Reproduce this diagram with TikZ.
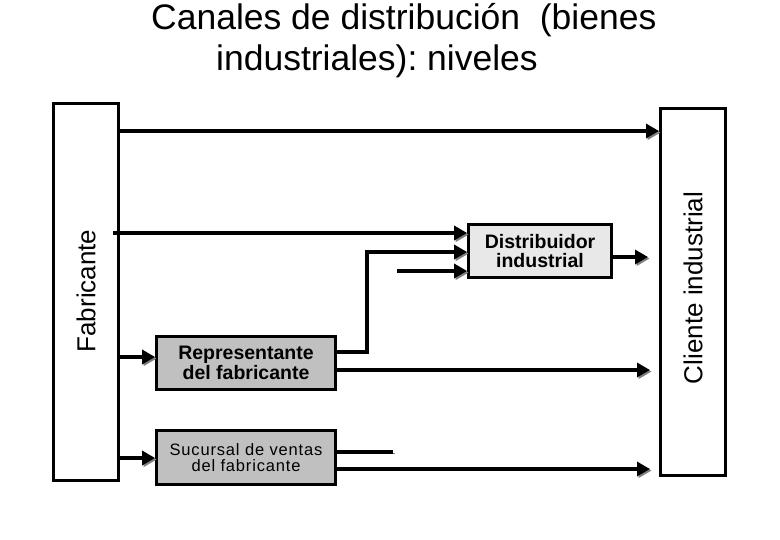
\documentclass[tikz,border=0pt]{standalone}
\usepackage{fontspec}
\setmainfont{Liberation Sans}
\usetikzlibrary{arrows.meta}
\definecolor{boxgray}{RGB}{192,192,192}
\definecolor{lightbox}{RGB}{232,232,232}
\definecolor{shadowgray}{RGB}{128,128,128}
\frenchspacing
\begin{document}
\begin{tikzpicture}[x=1pt,y=-1pt,
  frame/.style={draw,line width=3pt,inner sep=0pt},
  agent/.style={frame,line width=2.8pt,align=center,inner sep=0pt},
  ln/.style={line width=4.8pt,
    preaction={draw=shadowgray,transform canvas={shift={(1.6pt,-1.6pt)}}}},
  arr/.style={ln,-{Triangle[length=13pt,width=14pt]}},
  titlefont/.style={font=\fontsize{35.5}{40}\selectfont},
  sidefont/.style={font=\fontsize{26}{30}\selectfont},
  boldfont/.style={font=\fontsize{19.5}{19.5}\selectfont\bfseries},
  smallfont/.style={font=\fontsize{16.5}{16}\selectfont\addfontfeatures{LetterSpace=5}}]
\fill[white] (0,0) rectangle (780,540);
\useasboundingbox (0,0) rectangle (780,540);

% title
\node[titlefont,anchor=base west,inner sep=0pt] (t1) at (151,30) {Canales de distribución\ \ (bienes};
\node[titlefont,anchor=base west,inner sep=0pt] (t2) at (216,71) {industriales): niveles};

% big frames
\node[frame,minimum width=65pt,minimum height=377pt] (fab) at (86,292) {};
\node[frame,minimum width=65pt,minimum height=367pt] (cli) at (693,292) {};
\node[sidefont,rotate=90] (fabt) at (86,291) {Fabricante};
\node[sidefont,rotate=90] (clit) at (693,288) {Cliente industrial};

% intermediaries
\node[agent,fill=lightbox,boldfont,minimum width=143pt,minimum height=53pt] (dist) at (540,251) {Distribuidor\\industrial};
\node[agent,fill=boxgray,boldfont,minimum width=179pt,minimum height=53pt] (rep) at (246,363) {Representante\\del fabricante};
\node[agent,fill=boxgray,smallfont,minimum width=179pt,minimum height=54pt] (suc) at (246,457.5) {Sucursal de ventas\\del fabricante};

% free ends
\coordinate (s2) at (113,233);
\coordinate (j) at (367,252);
\coordinate (s4) at (397,271);
\coordinate (e5) at (648,257);
\coordinate (e7) at (650,370);
\coordinate (e9) at (393,452);
\coordinate (e10) at (650,469);

% connectors
\draw[arr] (fab.east |- 0,131) -- (cli.west |- 0,131);
\draw[arr] (s2) -- (dist.west |- s2);
\draw[arr] (rep.east |- 0,352) -| (j) -- (dist.west |- j);
\draw[arr] (s4) -- (dist.west |- s4);
\draw[arr] (dist.east |- e5) -- (e5);
\draw[arr] (fab.east |- 0,357) -- (rep.west |- 0,357);
\draw[arr] (rep.east |- e7) -- (e7);
\draw[arr] (fab.east |- 0,458) -- (suc.west |- 0,458);
\draw[ln] (suc.east |- e9) -- (e9);
\draw[arr] (suc.east |- e10) -- (e10);
\end{tikzpicture}
\end{document}
